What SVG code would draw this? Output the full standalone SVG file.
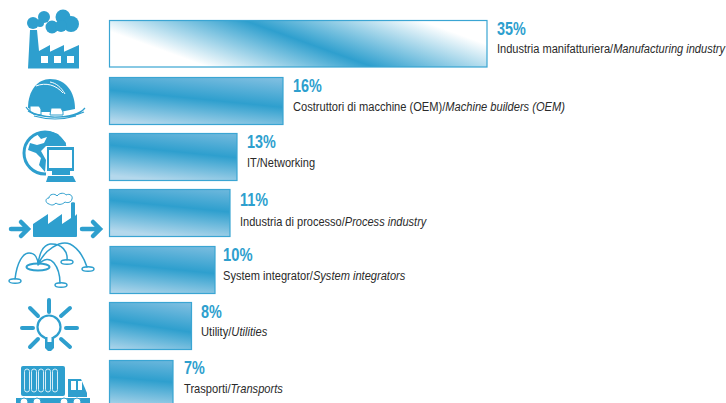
<svg xmlns="http://www.w3.org/2000/svg" xmlns:xlink="http://www.w3.org/1999/xlink" width="726" height="403" viewBox="0 0 726 403">
<style>
.bar{stroke:#3aa5d3;stroke-width:1.2}
.p{font:bold 18px "Liberation Sans",Arial,sans-serif;fill:#2e9fce}
.t{font:12px "Liberation Sans",Arial,sans-serif;fill:#2a2a2a}
.t tspan{font-style:italic}
.i{fill:#2e9fce}
.l{fill:none;stroke:#2e9fce;stroke-linecap:round}
.w{fill:#fff}
.o{fill:#fff;stroke:#2e9fce}
</style>
<defs>
<linearGradient id="g1" gradientUnits="userSpaceOnUse" x1="217.500" y1="90.500" x2="263.400" y2="-36.400">
<stop offset="0" stop-color="#fff"/><stop offset=".14" stop-color="#fff"/><stop offset=".556" stop-color="#2e9fce"/><stop offset="1" stop-color="#fff"/>
</linearGradient>
<linearGradient id="s">
<stop offset="0" stop-color="#b4d8ec"/><stop offset=".5" stop-color="#2e9fce"/><stop offset="1" stop-color="#85c1e2"/>
</linearGradient>
<linearGradient id="g2" href="#s" xlink:href="#s" gradientUnits="userSpaceOnUse" x1="106" y1="120" x2="112" y2="60"/>
<linearGradient id="g3" href="#s" xlink:href="#s" gradientUnits="userSpaceOnUse" x1="106" y1="175" x2="112" y2="115"/>
<linearGradient id="g4" href="#s" xlink:href="#s" gradientUnits="userSpaceOnUse" x1="106" y1="230" x2="112" y2="170"/>
<linearGradient id="g5" href="#s" xlink:href="#s" gradientUnits="userSpaceOnUse" x1="107" y1="293" x2="113" y2="233"/>
<linearGradient id="g6" href="#s" xlink:href="#s" gradientUnits="userSpaceOnUse" x1="105" y1="350" x2="114" y2="290"/>
<linearGradient id="g7" href="#s" xlink:href="#s" gradientUnits="userSpaceOnUse" x1="107" y1="407" x2="112" y2="347"/>
</defs>
<g id="bar-1"><rect class="bar" x="109.500" y="20.500" width="377.500" height="46.500" fill="url(#g1)"/></g>
<g id="bar-2"><rect class="bar" x="109.500" y="77.500" width="173.500" height="47" fill="url(#g2)"/></g>
<g id="bar-3"><rect class="bar" x="109.500" y="133.500" width="127.500" height="47" fill="url(#g3)"/></g>
<g id="bar-4"><rect class="bar" x="109.500" y="189.500" width="120.500" height="47" fill="url(#g4)"/></g>
<g id="bar-5"><rect class="bar" x="110" y="246.500" width="105" height="47" fill="url(#g5)"/></g>
<g id="bar-6"><rect class="bar" x="109.500" y="302.500" width="82" height="47" fill="url(#g6)"/></g>
<g id="bar-7"><rect class="bar" x="109.500" y="360.500" width="63.500" height="47" fill="url(#g7)"/></g>
<g id="label-1"><text class="p" transform="translate(497 35) scale(.8 1)">35%</text><text class="t" transform="translate(497 53) scale(.922 1)">Industria manifatturiera/<tspan>Manufacturing industry</tspan></text></g>
<g id="label-2"><text class="p" transform="translate(293 92) scale(.8 1)">16%</text><text class="t" transform="translate(293 111) scale(.926 1)">Costruttori di macchine (OEM)/<tspan>Machine builders (OEM)</tspan></text></g>
<g id="label-3"><text class="p" transform="translate(247 148) scale(.8 1)">13%</text><text class="t" transform="translate(247 167) scale(.92 1)">IT/Networking</text></g>
<g id="label-4"><text class="p" transform="translate(240 206) scale(.8 1)">11%</text><text class="t" transform="translate(240 226) scale(.92 1)">Industria di processo/<tspan>Process industry</tspan></text></g>
<g id="label-5"><text class="p" transform="translate(223 261) scale(.82 1)">10%</text><text class="t" transform="translate(223 280) scale(.924 1)">System integrator/<tspan>System integrators</tspan></text></g>
<g id="label-6"><text class="p" transform="translate(201 318) scale(.8 1)">8%</text><text class="t" transform="translate(201 336) scale(.93 1)">Utility/<tspan>Utilities</tspan></text></g>
<g id="label-7"><text class="p" transform="translate(184 374) scale(.8 1)">7%</text><text class="t" transform="translate(184 393) scale(.928 1)">Trasporti/<tspan>Transports</tspan></text></g>
<g id="icon-factory">
<circle class="i" cx="33" cy="23" r="6"/><circle class="i" cx="44" cy="17" r="6"/><circle class="i" cx="52" cy="27" r="6.500"/><circle class="i" cx="63" cy="17" r="7.500"/><circle class="i" cx="71" cy="24" r="8"/><circle class="i" cx="61" cy="26" r="6"/><circle class="i" cx="40" cy="23" r="4"/>
<path class="i" d="M30 30H37L39 51 50 45V51.700L64 45V51.700L79 45V68.500H28Z"/>
<rect class="w" x="41" y="56" width="7" height="7"/><rect class="w" x="54" y="56" width="7" height="7"/><rect class="w" x="67" y="56" width="7" height="7"/>
</g>
<g id="icon-helmet">
<path class="i" d="M28 108C28 90 38 79 50 79 66 79 75 92 75 109L60 112H40Z"/>
<path d="M36 86C46 82 56 85 63 93M50 82C56 83 61 87 65 94" fill="none" stroke="#fff"/>
<path class="o" d="M30 106H39L41 109V115L33 114 30 111ZM51 108H61L63 112V115H50Z" stroke-width="1"/>
<path d="M26 107C30 114 44 117 55 117 68 117 80 114 85 108M28 111C38 118 66 120 84 112M34 116C48 120 62 120 76 116" fill="none" stroke="#2e9fce" stroke-width="1.200"/>
</g>
<g id="icon-it">
<circle cx="45" cy="153" r="21" fill="#fff" stroke="#2e9fce" stroke-width="3"/>
<path class="i" d="M36 133L41 139 47 137 44 143 37 145 30 143 28 150 36 153 41 158 39 165 45 172 46 160 41 151 46 146 58 146 65 147 66 143 58 134 49 131Z"/>
<rect class="w" x="46" y="146" width="30" height="36"/>
<path class="i" d="M47 147H74V171H47Z"/><rect class="w" x="49" y="150" width="23" height="18"/>
<path class="i" d="M52 171H70V175H52ZM48 176H73L76 182H46Z"/>
</g>
<g id="icon-process">
<path d="M49 204C45 203 45 198 49 198 49 194 55 193 57 196 60 192 65 193 66 195 70 193 73 196 72 199 71 203 67 203 65 202 62 205 58 205 56 203 53 206 51 205 49 204Z" fill="none" stroke="#2e9fce"/>
<path class="i" d="M71 203C71 202 75 202 75 203V216L77 214V236C77 237 76 237 75 237H35C34 237 33 237 33 236V224L48 214V224L62 214V224L71 218Z"/>
<path class="l" d="M11 229H27M21 222L28 229 21 236M82 229H99M93 222L100 229 93 236" stroke-width="4.500"/>
</g>
<g id="icon-integrator">
<ellipse class="o" cx="38" cy="267" rx="11.500" ry="3.500" stroke-width="2"/>
<ellipse class="o" cx="15" cy="281" rx="6" ry="2.300" stroke-width="1.500"/><ellipse class="o" cx="61" cy="285" rx="6" ry="2.300" stroke-width="1.500"/><ellipse class="o" cx="67" cy="262" rx="6" ry="2.300" stroke-width="1.500"/><ellipse class="o" cx="88" cy="269" rx="6" ry="2.300" stroke-width="1.500"/>
<path class="l" d="M15 279C17 262 23 253 29 253 35 253 38 258 38 265M38 265C39 254 43 245 50 244 62 243 68 252 67 260M38 265C44 250 60 240 70 244 78 248 84 258 87 267M38 265C44 258 50 258 54 263 58 268 60 276 60 283" stroke-width="1.500"/>
</g>
<g id="icon-bulb">
<circle cx="49" cy="327" r="11.500" class="o" stroke-width="2.200"/>
<path class="i" d="M45 337H54V348L51 351H48L45 348Z"/><rect class="w" x="47.500" y="336" width="4" height="6"/>
<path class="l" d="M49 300V312M30 308L38 316M70 308L61 316M22 328H33M66 328H77M30 347L38 339M70 347L61 339" stroke-width="4"/>
</g>
<g id="icon-truck">
<rect class="i" x="21" y="366" width="44" height="30" rx="2"/>
<g fill="none" stroke="#d6edf7"><rect x="24.500" y="369" width="5" height="23" rx="2.500"/><rect x="31.500" y="369" width="5" height="23" rx="2.500"/><rect x="38.500" y="369" width="5" height="23" rx="2.500"/><rect x="45.500" y="369" width="5" height="23" rx="2.500"/><rect x="52.500" y="369" width="5" height="23" rx="2.500"/></g>
<path class="i" d="M68 379H81L87 393V397H68Z"/><rect class="w" x="71" y="381" width="5" height="9"/><rect class="w" x="78" y="381" width="4" height="9"/>
<rect class="i" x="16" y="398" width="74" height="5"/>
<circle class="o" cx="24" cy="402" r="4"/><circle class="o" cx="37" cy="402" r="4"/><circle class="o" cx="64" cy="402" r="4"/><circle class="o" cx="77" cy="402" r="4"/>
</g>
</svg>
